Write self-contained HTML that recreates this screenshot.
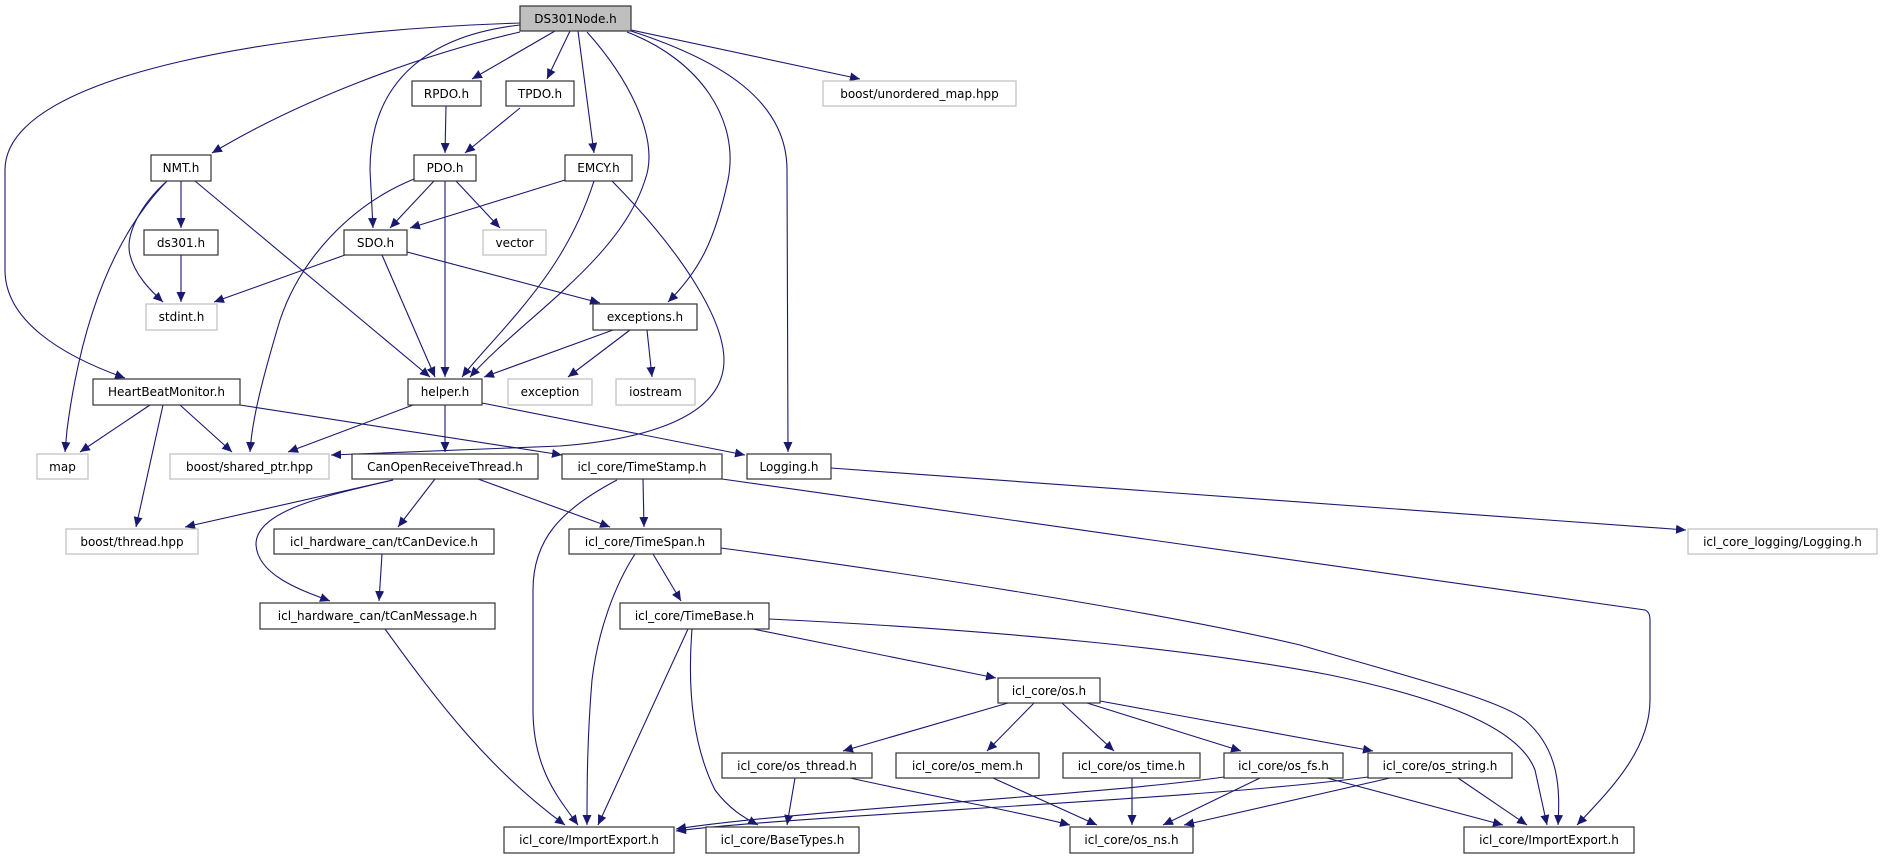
<!DOCTYPE html>
<html><head><meta charset="utf-8"><style>
html,body{margin:0;padding:0;background:#fff;}
svg{display:block;}
text{font-family:"DejaVu Sans","Liberation Sans",sans-serif;font-size:12px;fill:#000;text-anchor:middle;}
.n{fill:#fff;stroke:#333;stroke-width:1.2;}
.g{fill:#fff;stroke:#bfbfbf;stroke-width:1.2;}
.e{fill:none;stroke:#191970;stroke-width:1.1;marker-end:url(#a);}
</style></head><body>
<svg width="1883" height="859" viewBox="0 0 1883 859" xmlns="http://www.w3.org/2000/svg">
<defs><marker id="a" markerUnits="userSpaceOnUse" markerWidth="11" markerHeight="9" refX="10" refY="4.5" orient="auto"><path d="M0,0 L10,4.5 L0,9 z" fill="#191970"/></marker></defs>

<!-- edges -->
<path class="e" d="M520,23 C300,30 5,70 5,170 L5,270 C5,320 60,355 125,378"/>
<path class="e" d="M520,32 C420,55 300,100 212,153"/>
<path class="e" d="M520,25 C430,35 370,80 370,170 L373,228"/>
<path class="e" d="M555,31 L472,79"/>
<path class="e" d="M570,31 L547,79"/>
<path class="e" d="M578,31 L594,153"/>
<path class="e" d="M587,32 C630,80 660,140 645,180 C620,260 520,320 470,377"/>
<path class="e" d="M627,32 C700,60 740,120 728,180 C715,240 700,270 668,302"/>
<path class="e" d="M631,31 C720,60 787,100 787,170 L788,452"/>
<path class="e" d="M631,30 L860,79"/>
<path class="e" d="M446,106 L445,153"/>
<path class="e" d="M520,108 L465,153"/>
<path class="e" d="M181,181 L181,228"/>
<path class="e" d="M167,181 C140,205 125,235 130,255 C135,275 150,290 163,302"/>
<path class="e" d="M167,181 C110,240 80,330 67,430 L65,452"/>
<path class="e" d="M195,181 L430,377"/>
<path class="e" d="M181,255 L181,302"/>
<path class="e" d="M434,181 L390,228"/>
<path class="e" d="M456,181 L500,228"/>
<path class="e" d="M445,181 L445,377"/>
<path class="e" d="M414,179 C350,205 300,260 280,320 C262,380 252,420 250,452"/>
<path class="e" d="M565,180 L410,228"/>
<path class="e" d="M594,181 C575,240 545,280 520,310 C495,340 475,360 462,377"/>
<path class="e" d="M612,181 C680,250 735,330 722,375 C710,420 640,440 560,446 L331,455"/>
<path class="e" d="M345,255 L214,302"/>
<path class="e" d="M382,255 L435,377"/>
<path class="e" d="M407,252 L600,303"/>
<path class="e" d="M613,330 L484,377"/>
<path class="e" d="M630,330 L568,377"/>
<path class="e" d="M647,330 L652,377"/>
<path class="e" d="M150,405 L80,452"/>
<path class="e" d="M180,405 L232,452"/>
<path class="e" d="M163,405 L136,527"/>
<path class="e" d="M240,405 L562,455"/>
<path class="e" d="M413,405 L288,452"/>
<path class="e" d="M445,405 L445,452"/>
<path class="e" d="M482,403 L745,455"/>
<path class="e" d="M393,480 L185,527"/>
<path class="e" d="M393,480 C330,495 255,510 256,545 C258,575 300,590 330,601"/>
<path class="e" d="M435,479 L398,527"/>
<path class="e" d="M478,479 L610,527"/>
<path class="e" d="M382,554 L379,601"/>
<path class="e" d="M385,629 C440,705 490,770 565,825"/>
<path class="e" d="M643,479 L644,527"/>
<path class="e" d="M617,480 C560,510 533,540 533,590 L533,710 C533,770 560,800 578,825"/>
<path class="e" d="M722,479 L1645,610 Q1650,612 1650,620 L1650,700 C1650,750 1610,790 1577,825"/>
<path class="e" d="M635,554 C615,585 598,630 592,680 C587,740 587,790 587,825"/>
<path class="e" d="M653,554 L681,601"/>
<path class="e" d="M721,548 C900,572 1150,610 1300,645 C1420,680 1500,700 1525,720 C1560,750 1560,790 1558,825"/>
<path class="e" d="M688,629 L598,825"/>
<path class="e" d="M692,629 C688,680 690,740 715,790 C730,810 745,818 758,825"/>
<path class="e" d="M753,629 L996,678"/>
<path class="e" d="M769,619 C1000,630 1200,650 1330,675 C1450,700 1520,730 1535,770 L1547,825"/>
<path class="e" d="M1008,703 L843,751"/>
<path class="e" d="M1034,703 L987,751"/>
<path class="e" d="M1062,703 L1114,751"/>
<path class="e" d="M1087,703 L1241,751"/>
<path class="e" d="M1100,701 L1373,751"/>
<path class="e" d="M795,778 L787,825"/>
<path class="e" d="M850,778 C950,800 1020,812 1070,825"/>
<path class="e" d="M993,778 L1097,825"/>
<path class="e" d="M1132,778 L1132,825"/>
<path class="e" d="M1260,778 L1163,825"/>
<path class="e" d="M1224,777 C1100,795 800,810 676,829"/>
<path class="e" d="M1368,777 C1200,800 800,815 676,831"/>
<path class="e" d="M1327,778 L1503,825"/>
<path class="e" d="M1390,778 L1184,825"/>
<path class="e" d="M1458,778 L1527,825"/>
<path class="e" d="M831,468 L1686,530"/>

<!-- nodes -->
<rect x="520" y="6" width="111" height="25" fill="#bfbfbf" stroke="#333" stroke-width="1.2"/><text x="575.5" y="23">DS301Node.h</text>
<rect class="n" x="412" y="81" width="69" height="25"/><text x="446.5" y="98">RPDO.h</text>
<rect class="n" x="506" y="81" width="68" height="25"/><text x="540" y="98">TPDO.h</text>
<rect class="g" x="823" y="81" width="193" height="25"/><text x="919.5" y="98">boost/unordered_map.hpp</text>
<rect class="n" x="151" y="155" width="60" height="26"/><text x="181" y="172">NMT.h</text>
<rect class="n" x="414" y="155" width="62" height="26"/><text x="445" y="172">PDO.h</text>
<rect class="n" x="565" y="155" width="67" height="26"/><text x="598.5" y="172">EMCY.h</text>
<rect class="n" x="144" y="230" width="74" height="25"/><text x="181" y="247">ds301.h</text>
<rect class="n" x="344" y="230" width="63" height="25"/><text x="375.5" y="247">SDO.h</text>
<rect class="g" x="483" y="230" width="63" height="25"/><text x="514.5" y="247">vector</text>
<rect class="g" x="146" y="304" width="71" height="26"/><text x="181.5" y="321">stdint.h</text>
<rect class="n" x="593" y="304" width="104" height="26"/><text x="645" y="321">exceptions.h</text>
<rect class="n" x="93" y="379" width="147" height="26"/><text x="166.5" y="396">HeartBeatMonitor.h</text>
<rect class="n" x="408" y="379" width="74" height="26"/><text x="445" y="396">helper.h</text>
<rect class="g" x="508" y="379" width="84" height="26"/><text x="550" y="396">exception</text>
<rect class="g" x="616" y="379" width="79" height="26"/><text x="655.5" y="396">iostream</text>
<rect class="g" x="37" y="454" width="51" height="25"/><text x="62.5" y="471">map</text>
<rect class="g" x="170" y="454" width="159" height="25"/><text x="249.5" y="471">boost/shared_ptr.hpp</text>
<rect class="n" x="352" y="454" width="186" height="25"/><text x="445" y="471">CanOpenReceiveThread.h</text>
<rect class="n" x="562" y="454" width="160" height="25"/><text x="642" y="471">icl_core/TimeStamp.h</text>
<rect class="n" x="747" y="454" width="84" height="25"/><text x="789" y="471">Logging.h</text>
<rect class="g" x="66" y="529" width="132" height="25"/><text x="132" y="546">boost/thread.hpp</text>
<rect class="n" x="274" y="529" width="220" height="25"/><text x="384" y="546">icl_hardware_can/tCanDevice.h</text>
<rect class="n" x="569" y="529" width="152" height="25"/><text x="645" y="546">icl_core/TimeSpan.h</text>
<rect class="g" x="1688" y="529" width="189" height="25"/><text x="1782.5" y="546">icl_core_logging/Logging.h</text>
<rect class="n" x="260" y="603" width="235" height="26"/><text x="377.5" y="620">icl_hardware_can/tCanMessage.h</text>
<rect class="n" x="620" y="603" width="149" height="26"/><text x="694.5" y="620">icl_core/TimeBase.h</text>
<rect class="n" x="998" y="678" width="102" height="25"/><text x="1049" y="695">icl_core/os.h</text>
<rect class="n" x="722" y="753" width="150" height="25"/><text x="797" y="770">icl_core/os_thread.h</text>
<rect class="n" x="896" y="753" width="143" height="25"/><text x="967.5" y="770">icl_core/os_mem.h</text>
<rect class="n" x="1063" y="753" width="137" height="25"/><text x="1131.5" y="770">icl_core/os_time.h</text>
<rect class="n" x="1224" y="753" width="119" height="25"/><text x="1283.5" y="770">icl_core/os_fs.h</text>
<rect class="n" x="1368" y="753" width="144" height="25"/><text x="1440" y="770">icl_core/os_string.h</text>
<rect class="n" x="504" y="827" width="170" height="26"/><text x="589" y="844">icl_core/ImportExport.h</text>
<rect class="n" x="706" y="827" width="153" height="26"/><text x="782.5" y="844">icl_core/BaseTypes.h</text>
<rect class="n" x="1070" y="827" width="123" height="26"/><text x="1131.5" y="844">icl_core/os_ns.h</text>
<rect class="n" x="1464" y="827" width="170" height="26"/><text x="1549" y="844">icl_core/ImportExport.h</text>
</svg>
</body></html>
